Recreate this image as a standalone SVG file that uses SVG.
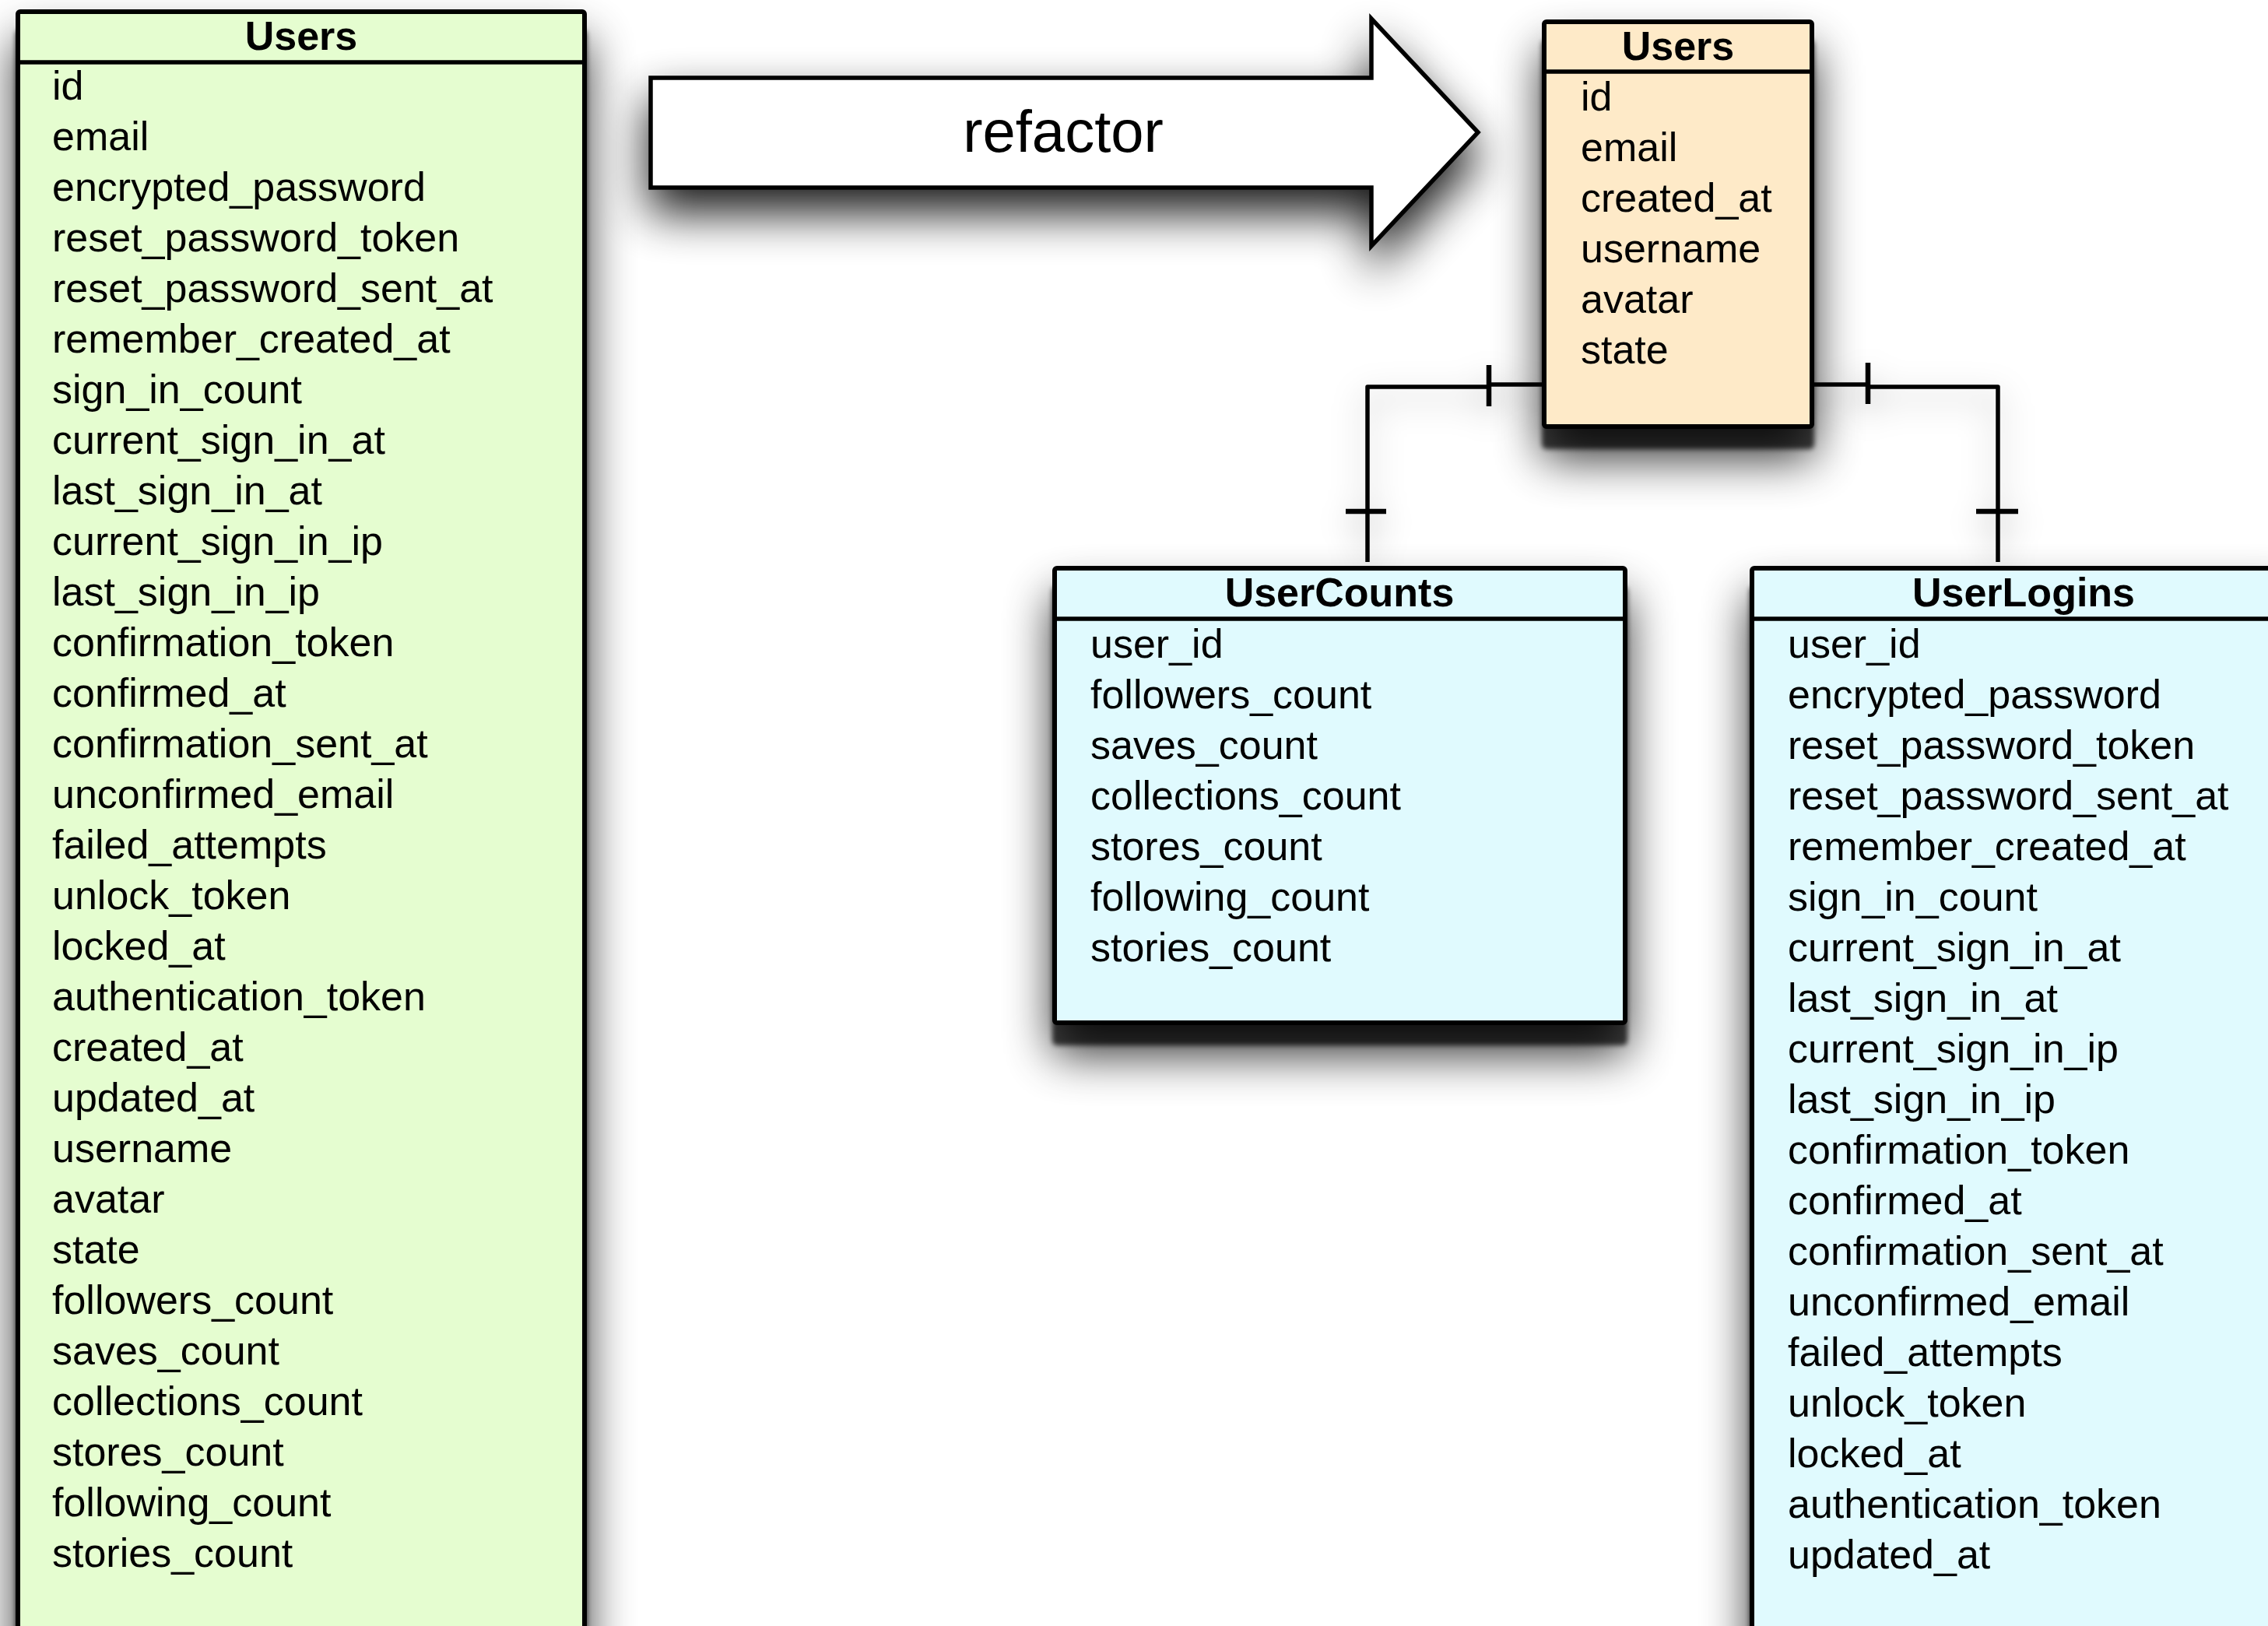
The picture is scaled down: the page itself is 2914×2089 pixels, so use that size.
<svg xmlns="http://www.w3.org/2000/svg" width="2914" height="2089" viewBox="0 0 2914 2089">
  <defs>
    <!-- table shadow: dense core just under the box plus a wide soft halo -->
    <filter id="shadow" x="-25%" y="-25%" width="150%" height="160%">
      <feOffset in="SourceAlpha" dx="0" dy="26" result="coreOff"/>
      <feGaussianBlur in="coreOff" stdDeviation="3" result="coreBlur"/>
      <feComponentTransfer in="coreBlur" result="core">
        <feFuncA type="linear" slope="0.72"/>
      </feComponentTransfer>
      <feOffset in="SourceAlpha" dx="0" dy="38" result="softOff"/>
      <feGaussianBlur in="softOff" stdDeviation="30" result="softBlur"/>
      <feComponentTransfer in="softBlur" result="soft">
        <feFuncA type="linear" slope="0.8"/>
      </feComponentTransfer>
      <feMerge>
        <feMergeNode in="soft"/>
        <feMergeNode in="core"/>
        <feMergeNode in="SourceGraphic"/>
      </feMerge>
    </filter>
    <filter id="arrowShadow" x="-20%" y="-50%" width="140%" height="220%">
      <feOffset in="SourceAlpha" dx="0" dy="30" result="off"/>
      <feGaussianBlur in="off" stdDeviation="30" result="blur"/>
      <feComponentTransfer in="blur" result="soft">
        <feFuncA type="linear" slope="0.9"/>
      </feComponentTransfer>
      <feMerge>
        <feMergeNode in="soft"/>
        <feMergeNode in="SourceGraphic"/>
      </feMerge>
    </filter>
    <filter id="lineShadow" x="-50%" y="-50%" width="200%" height="200%">
      <feDropShadow dx="0" dy="14" stdDeviation="20" flood-color="#000" flood-opacity="0.32"/>
    </filter>
  </defs>
  <style>
    .box { stroke: #000; stroke-width: 6; }
    .sep { stroke: #000; stroke-width: 5.5; }
    .green { fill: #E5FDD0; }
    .peach { fill: #FEEAC8; }
    .cyan { fill: #E0FAFE; }
    .title { font-family: "Liberation Sans", Arial, Helvetica, sans-serif; font-weight: bold; font-size: 52px; text-anchor: middle; fill: #000; }
    .field { font-family: "Liberation Sans", Arial, Helvetica, sans-serif; font-size: 52px; fill: #000; }
    .conn { fill: none; stroke: #000; stroke-width: 5.5; stroke-linejoin: round; }
    .tick { fill: none; stroke: #000; stroke-width: 6.5; }
    .arrow { fill: #fff; stroke: #000; stroke-width: 5.5; stroke-linejoin: miter; }
    .label { font-family: "Liberation Sans", Arial, Helvetica, sans-serif; font-size: 76px; text-anchor: middle; fill: #000; }
  </style>
  <rect width="2914" height="2089" fill="#fff"/>

  <!-- original wide Users table -->
  <g id="users-old" filter="url(#shadow)">
    <rect class="box green" x="23" y="15" width="728" height="2110" rx="3"/>
    <line class="sep" x1="23" y1="80" x2="751" y2="80"/>
    <text class="title" x="387" y="64">Users</text>
    <text class="field" x="67" y="128">
      <tspan x="67" dy="0">id</tspan>
      <tspan x="67" dy="65">email</tspan>
      <tspan x="67" dy="65">encrypted_password</tspan>
      <tspan x="67" dy="65">reset_password_token</tspan>
      <tspan x="67" dy="65">reset_password_sent_at</tspan>
      <tspan x="67" dy="65">remember_created_at</tspan>
      <tspan x="67" dy="65">sign_in_count</tspan>
      <tspan x="67" dy="65">current_sign_in_at</tspan>
      <tspan x="67" dy="65">last_sign_in_at</tspan>
      <tspan x="67" dy="65">current_sign_in_ip</tspan>
      <tspan x="67" dy="65">last_sign_in_ip</tspan>
      <tspan x="67" dy="65">confirmation_token</tspan>
      <tspan x="67" dy="65">confirmed_at</tspan>
      <tspan x="67" dy="65">confirmation_sent_at</tspan>
      <tspan x="67" dy="65">unconfirmed_email</tspan>
      <tspan x="67" dy="65">failed_attempts</tspan>
      <tspan x="67" dy="65">unlock_token</tspan>
      <tspan x="67" dy="65">locked_at</tspan>
      <tspan x="67" dy="65">authentication_token</tspan>
      <tspan x="67" dy="65">created_at</tspan>
      <tspan x="67" dy="65">updated_at</tspan>
      <tspan x="67" dy="65">username</tspan>
      <tspan x="67" dy="65">avatar</tspan>
      <tspan x="67" dy="65">state</tspan>
      <tspan x="67" dy="65">followers_count</tspan>
      <tspan x="67" dy="65">saves_count</tspan>
      <tspan x="67" dy="65">collections_count</tspan>
      <tspan x="67" dy="65">stores_count</tspan>
      <tspan x="67" dy="65">following_count</tspan>
      <tspan x="67" dy="65">stories_count</tspan>
    </text>
  </g>

  <!-- refactor arrow -->
  <g id="refactor-arrow">
    <path class="arrow" filter="url(#arrowShadow)" d="M836,100 L1762,100 L1762,24 L1899,170 L1762,316 L1762,241 L836,241 Z"/>
    <text class="label" x="1366" y="195">refactor</text>
  </g>

  <!-- relationships -->
  <g id="connectors" filter="url(#lineShadow)">
    <path class="conn" d="M1981,494 H1913 M1913,497 H1757 V722"/>
    <path class="tick" d="M1913,469 V522 M1729,657 H1781"/>
    <path class="conn" d="M2331,494 H2400 M2400,497 H2567 V722"/>
    <path class="tick" d="M2400,466 V519 M2539,657 H2593"/>
  </g>

  <!-- slim Users table -->
  <g id="users-new" filter="url(#shadow)">
    <rect class="box peach" x="1984" y="28" width="344" height="520" rx="3"/>
    <line class="sep" x1="1984" y1="92" x2="2328" y2="92"/>
    <text class="title" x="2156" y="77">Users</text>
    <text class="field" x="2031" y="142">
      <tspan x="2031" dy="0">id</tspan>
      <tspan x="2031" dy="65">email</tspan>
      <tspan x="2031" dy="65">created_at</tspan>
      <tspan x="2031" dy="65">username</tspan>
      <tspan x="2031" dy="65">avatar</tspan>
      <tspan x="2031" dy="65">state</tspan>
    </text>
  </g>

  <!-- UserCounts table -->
  <g id="user-counts" filter="url(#shadow)">
    <rect class="box cyan" x="1355" y="730" width="733" height="584" rx="3"/>
    <line class="sep" x1="1355" y1="795" x2="2088" y2="795"/>
    <text class="title" x="1721" y="779">UserCounts</text>
    <text class="field" x="1401" y="845">
      <tspan x="1401" dy="0">user_id</tspan>
      <tspan x="1401" dy="65">followers_count</tspan>
      <tspan x="1401" dy="65">saves_count</tspan>
      <tspan x="1401" dy="65">collections_count</tspan>
      <tspan x="1401" dy="65">stores_count</tspan>
      <tspan x="1401" dy="65">following_count</tspan>
      <tspan x="1401" dy="65">stories_count</tspan>
    </text>
  </g>

  <!-- UserLogins table -->
  <g id="user-logins" filter="url(#shadow)">
    <rect class="box cyan" x="2251" y="730" width="700" height="1400" rx="3"/>
    <line class="sep" x1="2251" y1="795" x2="2951" y2="795"/>
    <text class="title" x="2600" y="779">UserLogins</text>
    <text class="field" x="2297" y="845">
      <tspan x="2297" dy="0">user_id</tspan>
      <tspan x="2297" dy="65">encrypted_password</tspan>
      <tspan x="2297" dy="65">reset_password_token</tspan>
      <tspan x="2297" dy="65">reset_password_sent_at</tspan>
      <tspan x="2297" dy="65">remember_created_at</tspan>
      <tspan x="2297" dy="65">sign_in_count</tspan>
      <tspan x="2297" dy="65">current_sign_in_at</tspan>
      <tspan x="2297" dy="65">last_sign_in_at</tspan>
      <tspan x="2297" dy="65">current_sign_in_ip</tspan>
      <tspan x="2297" dy="65">last_sign_in_ip</tspan>
      <tspan x="2297" dy="65">confirmation_token</tspan>
      <tspan x="2297" dy="65">confirmed_at</tspan>
      <tspan x="2297" dy="65">confirmation_sent_at</tspan>
      <tspan x="2297" dy="65">unconfirmed_email</tspan>
      <tspan x="2297" dy="65">failed_attempts</tspan>
      <tspan x="2297" dy="65">unlock_token</tspan>
      <tspan x="2297" dy="65">locked_at</tspan>
      <tspan x="2297" dy="65">authentication_token</tspan>
      <tspan x="2297" dy="65">updated_at</tspan>
    </text>
  </g>
</svg>
